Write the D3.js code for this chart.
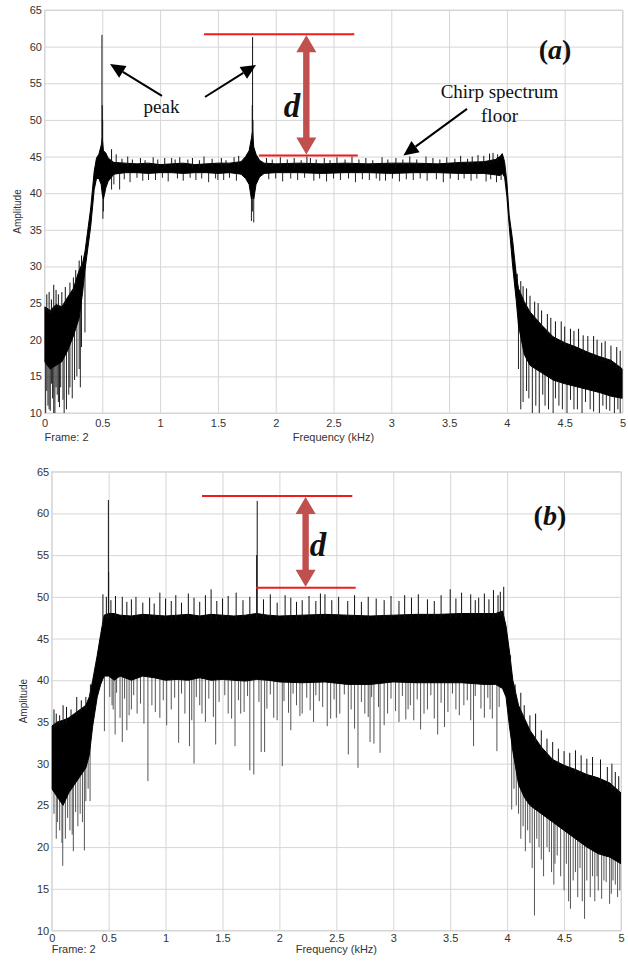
<!DOCTYPE html>
<html>
<head>
<meta charset="utf-8">
<script src="https://cdn.jsdelivr.net/npm/d3@7"></script>
<style>
  body { margin: 0; background: #fff; }
  .axis text { font-family: "Liberation Sans", Arial, sans-serif; font-size: 11px; fill: #333; }
  .lbl { font-family: "Liberation Sans", Arial, sans-serif; fill: #333; }
  .serif { font-family: "Liberation Serif", "Times New Roman", serif; fill: #111; }
</style>
</head>
<body>
<div id="chart"></div>
<script>
// ---- shared axes ----
const xTicks = [0, 0.5, 1, 1.5, 2, 2.5, 3, 3.5, 4, 4.5, 5];
const xTickLabels = ["0", "0.5", "1", "1.5", "2", "2.5", "3", "3.5", "4", "4.5", "5"];
const yTicks = [10, 15, 20, 25, 30, 35, 40, 45, 50, 55, 60, 65];

// ---- panel (a): envelope of the dense trace ----
const freqA = [0, 0.05, 0.1, 0.15, 0.2, 0.25, 0.3, 0.33, 0.35, 0.4, 0.43, 0.45, 0.47, 0.49, 0.5, 0.51, 0.53, 0.55,
  0.6, 0.7, 0.8, 0.9, 1.0, 1.1, 1.2, 1.3, 1.4, 1.5, 1.6, 1.7, 1.74, 1.77, 1.79, 1.8, 1.81, 1.83, 1.86, 1.9,
  2.0, 2.2, 2.4, 2.6, 2.8, 3.0, 3.2, 3.4, 3.6, 3.8, 3.9, 3.94, 3.96, 3.98, 4.0, 4.02, 4.05, 4.08, 4.1, 4.15,
  4.2, 4.3, 4.4, 4.5, 4.6, 4.7, 4.8, 4.9, 5.0];
const topA = [24.5, 24, 24.8, 24.5, 25.8, 27, 29.5, 30.5, 32, 38, 43, 44.8, 45.3, 46.5, 47.5, 45.8, 45.5, 44.8,
  44.2, 44.1, 44.0, 44.1, 43.9, 44.0, 44.1, 43.9, 44.0, 44.1, 44.1, 44.3, 45.0, 45.8, 47.5, 48.5, 46.3, 45.3, 44.5, 44.1,
  44.0, 44.1, 44.0, 44.1, 44.0, 44.1, 44.1, 44.0, 44.2, 44.3, 44.6, 45.0, 45.4, 44.3, 41.5, 37, 33.5, 29, 27, 25.2,
  23.8, 22, 20.4, 19.6, 19, 18.3, 17.7, 17.2, 16];
const botA = [17, 16, 16.5, 17, 18.5, 20.5, 23, 26.5, 29.5, 35.5, 40.5, 42, 42, 41.2, 39.8, 39.2, 40.7, 41.6,
  42.6, 42.8, 42.8, 42.7, 42.8, 42.8, 42.7, 42.8, 42.8, 42.7, 42.8, 42.6, 42, 41.2, 39.2, 39.7, 39.2, 41.2, 42.2, 42.7,
  42.8, 42.8, 42.7, 42.8, 42.8, 42.7, 42.8, 42.8, 42.7, 42.7, 42.5, 42.4, 42.7, 42.2, 39.5, 35.5, 30, 25.5, 22, 18,
  16.5, 15.5, 14.5, 14, 13.6, 13.2, 12.8, 12.3, 12];
// isolated spikes [frequency kHz, amplitude]
const upSpikesA = [[0.497, 61.6], [0.5, 52], [0.503, 50], [1.8, 61.3], [1.797, 52], [1.803, 50],
  [0.02, 26.2], [0.04, 26.5], [0.06, 25.5], [0.08, 27.5], [0.1, 26.8], [0.12, 26.2], [0.15, 26.5], [0.18, 27.2],
  [0.22, 27.8], [0.25, 28.5], [0.27, 29.5], [0.3, 30.8], [0.32, 31.5],
  [0.58, 46], [0.62, 45.3], [0.67, 44.7], [0.72, 45.0], [0.76, 44.6], [0.83, 44.8], [0.87, 44.5], [0.94, 44.9],
  [0.98, 44.6], [1.04, 44.8], [1.1, 44.8], [1.13, 44.6], [1.17, 44.9], [1.24, 44.6], [1.28, 44.8], [1.34, 44.5],
  [1.38, 45.0], [1.45, 44.7], [1.53, 44.8], [1.57, 44.5], [1.64, 44.9], [1.68, 45.1], [1.92, 44.8], [1.97, 44.6],
  [2.04, 44.9], [2.1, 44.6], [2.16, 44.8], [2.22, 44.5], [2.27, 45.0], [2.3, 44.8], [2.35, 44.6], [2.42, 44.8],
  [2.47, 44.5], [2.53, 44.9], [2.6, 44.6], [2.66, 45.0], [2.72, 44.6], [2.78, 44.8], [2.84, 44.5], [2.92, 44.9],
  [2.97, 44.6], [3.04, 44.8], [3.1, 44.6], [3.16, 45.0], [3.22, 44.6], [3.3, 45.0], [3.36, 44.8], [3.42, 44.6],
  [3.48, 44.9], [3.55, 44.7], [3.6, 45.1], [3.66, 44.7], [3.7, 45.0], [3.75, 45.2], [3.8, 45.1], [3.85, 45.4],
  [3.88, 45.5], [3.92, 45.3],
  [4.09, 29], [4.12, 28], [4.14, 27.3], [4.17, 27], [4.2, 26], [4.24, 25.2], [4.27, 25], [4.3, 24], [4.35, 23.5],
  [4.38, 23], [4.42, 22.5], [4.47, 22.5], [4.5, 21.8], [4.55, 21.5], [4.58, 21.2], [4.62, 21.5], [4.66, 20.6],
  [4.7, 20.5], [4.75, 20.5], [4.78, 20], [4.82, 19.6], [4.85, 19.8], [4.9, 19.2], [4.95, 19], [4.98, 18.5]];
const downSpikesA = [[0.505, 36.5], [0.51, 37.5], [0.52, 40], [1.79, 36.2], [1.81, 36], [1.8, 37.5],
  [0.01, 10], [0.02, 13], [0.03, 11], [0.04, 10.5], [0.05, 10.3], [0.06, 14], [0.07, 12], [0.08, 10], [0.09, 10],
  [0.1, 13.5], [0.11, 12.5], [0.12, 11.5], [0.13, 10.8], [0.14, 13.5], [0.16, 11.8], [0.17, 10], [0.19, 10.5],
  [0.21, 12.5], [0.22, 13.5], [0.24, 12], [0.26, 14.5], [0.28, 15], [0.3, 16], [0.31, 13.5], [0.32, 19], [0.35, 21],
  [0.58, 40.5], [0.6, 41.2], [0.65, 40.5], [0.69, 41.9], [0.74, 41.5], [0.8, 42.1], [0.85, 41.7], [0.9, 41.8],
  [0.96, 41.8], [1.02, 42.1], [1.07, 41.6], [1.15, 42.0], [1.2, 41.7], [1.26, 42.1], [1.31, 41.8], [1.36, 42.0],
  [1.42, 41.5], [1.48, 42.0], [1.5, 41.8], [1.55, 41.8], [1.6, 42.1], [1.66, 41.7], [1.94, 41.9], [2.0, 42.0],
  [2.06, 41.6], [2.13, 42.0], [2.19, 41.8], [2.25, 42.1], [2.33, 41.7], [2.38, 42.0], [2.44, 41.6], [2.5, 42.0],
  [2.56, 41.8], [2.63, 42.0], [2.69, 41.5], [2.75, 41.9], [2.81, 41.8], [2.87, 42.0], [2.9, 41.7], [2.95, 41.7],
  [3.01, 42.0], [3.07, 41.6], [3.13, 41.9], [3.19, 41.8], [3.25, 42.0], [3.31, 41.7], [3.39, 41.9], [3.45, 41.5],
  [3.51, 42.0], [3.58, 41.8], [3.63, 42.0], [3.69, 41.7], [3.74, 42.0], [3.82, 41.6], [3.86, 41.9], [3.91, 41.5],
  [3.95, 41.8],
  [4.1, 16], [4.12, 10.5], [4.14, 11.5], [4.17, 13], [4.19, 12], [4.22, 10], [4.25, 11], [4.28, 10], [4.31, 12.5],
  [4.33, 11], [4.36, 10.5], [4.4, 10], [4.42, 12], [4.45, 11], [4.48, 10.5], [4.52, 10], [4.55, 11.8], [4.58, 10.5],
  [4.61, 10.5], [4.65, 10], [4.68, 11.5], [4.72, 10.5], [4.75, 10.2], [4.8, 10], [4.83, 11], [4.86, 10.5],
  [4.89, 10.3], [4.93, 10], [4.96, 10.5], [4.98, 10]];

// ---- panel (b) ----
const freqB = [0, 0.05, 0.1, 0.15, 0.2, 0.25, 0.3, 0.33, 0.36, 0.4, 0.43, 0.46, 0.5, 0.55, 0.6, 0.7, 0.8, 0.9,
  1.0, 1.1, 1.2, 1.3, 1.4, 1.5, 1.6, 1.7, 1.8, 1.9, 2.0, 2.2, 2.4, 2.6, 2.8, 3.0, 3.2, 3.4, 3.6, 3.8, 3.9, 3.96,
  3.99, 4.02, 4.05, 4.1, 4.15, 4.2, 4.3, 4.4, 4.5, 4.6, 4.7, 4.8, 4.9, 5.0];
const topB = [34.5, 35, 35.2, 35.5, 36, 36.5, 37, 38, 40, 43, 45.5, 47.8, 48, 48, 47.8, 47.7, 47.9, 47.8,
  47.7, 47.8, 47.9, 47.7, 47.9, 47.8, 47.7, 47.8, 48, 47.8, 47.7, 47.8, 47.9, 47.8, 47.7, 47.8, 47.9, 47.9, 48, 48, 48, 48.3,
  46.5, 43.5, 40, 37, 35.5, 34, 32, 30.5, 29.8, 29.3, 28.7, 28.3, 27.7, 26.5];
const botB = [27, 26, 25, 26.5, 27.5, 28.5, 29.5, 31, 34.5, 38, 39.5, 40.5, 40.5, 40, 40.5, 40, 40.5, 40.3,
  40, 40.1, 40, 40.3, 40, 40.1, 40, 39.9, 40.1, 40, 39.8, 39.7, 39.8, 39.5, 39.5, 39.8, 39.7, 39.7, 39.7, 39.5, 39.5, 39,
  38, 34.5, 31.5, 27.5, 26, 25, 24, 23, 22, 21, 20, 19.2, 18.8, 18];
const upSpikesB = [[0.498, 61.6], [0.5, 53], [1.805, 61.5], [1.8, 55], [0.45, 50.3], [0.48, 50],
  [0.52, 49.6], [0.56, 50.1], [0.62, 50], [0.66, 49.4], [0.7, 49.7], [0.74, 50.0], [0.8, 49.3], [0.86, 49.9],
  [0.9, 49.2], [0.95, 50.5], [1.0, 49.8], [1.05, 49.5], [1.09, 50.2], [1.14, 49.3], [1.2, 50.4], [1.25, 49.9],
  [1.3, 49.4], [1.35, 50.2], [1.4, 50.9], [1.45, 49.5], [1.5, 49.8], [1.55, 50.1], [1.62, 50.5], [1.68, 49.6],
  [1.74, 50.0], [1.86, 49.7], [1.92, 50.3], [1.98, 49.3], [2.05, 50.2], [2.1, 49.9], [2.15, 49.4], [2.2, 49.6],
  [2.26, 50.1], [2.32, 49.5], [2.36, 50.4], [2.4, 50.3], [2.46, 49.6], [2.52, 50.0], [2.6, 49.5], [2.66, 50.2],
  [2.72, 49.4], [2.78, 50.0], [2.85, 49.8], [2.92, 49.6], [2.98, 50.1], [3.05, 49.5], [3.1, 50.2], [3.16, 49.9],
  [3.22, 50.3], [3.3, 49.7], [3.36, 49.5], [3.42, 50.2], [3.5, 50.9], [3.55, 49.8], [3.6, 50.5], [3.68, 50.3],
  [3.72, 49.6], [3.75, 49.9], [3.8, 50.4], [3.84, 49.7], [3.88, 50.8], [3.92, 50.2], [3.94, 50.6], [3.97, 51.2],
  [0.02, 36.5], [0.04, 36], [0.07, 35.8], [0.1, 37], [0.13, 36.8], [0.17, 36.5], [0.22, 38], [0.26, 37.6],
  [0.3, 38], [0.34, 39.5],
  [4.03, 43], [4.07, 39.5], [4.12, 38.5], [4.15, 37], [4.2, 35.8], [4.25, 36], [4.3, 34], [4.35, 33], [4.4, 32.6],
  [4.45, 31.8], [4.5, 31.5], [4.55, 31.3], [4.6, 31.6], [4.65, 31], [4.7, 30.6], [4.75, 30.8], [4.82, 30.5],
  [4.88, 29.6], [4.92, 30], [4.95, 29], [4.98, 28.5]];
const downSpikesB = [[0.02, 24], [0.04, 21], [0.05, 23], [0.07, 22], [0.09, 20.5], [0.097, 17.75], [0.12, 21],
  [0.14, 23.5], [0.16, 22], [0.18, 21.5], [0.19, 19.5], [0.21, 24.2], [0.23, 22.5], [0.25, 24], [0.27, 23],
  [0.287, 19.6], [0.3, 25.5], [0.32, 27], [0.337, 25.5], [0.463, 33.9],
  [0.51, 38], [0.53, 37], [0.54, 36.5], [0.557, 33.5], [0.57, 38.5], [0.6, 35.5], [0.62, 32.6], [0.64, 37.8],
  [0.66, 34], [0.68, 35.8], [0.7, 36.5], [0.72, 38.2], [0.75, 36], [0.78, 37.2], [0.81, 34.8], [0.845, 27.9],
  [0.88, 37], [0.91, 36.2], [0.95, 35.5], [0.98, 37.6], [1.01, 34.6], [1.05, 36.5], [1.08, 37.9], [1.115, 32.5],
  [1.14, 38.4], [1.17, 36], [1.21, 32.1], [1.23, 35.2], [1.25, 30], [1.27, 38], [1.3, 37], [1.32, 36],
  [1.35, 35], [1.38, 37.8], [1.42, 35.6], [1.44, 32.3], [1.47, 37.4], [1.52, 38.2], [1.55, 36], [1.58, 35.4],
  [1.61, 32.1], [1.64, 37.6], [1.66, 36], [1.69, 36.2], [1.72, 38.1], [1.74, 29.2], [1.775, 28.7], [1.82, 37.4],
  [1.84, 31.4], [1.87, 31.4], [1.89, 36.6], [1.92, 38.3], [1.95, 35.5], [1.98, 35.2], [2.025, 29.7], [2.04, 37.5],
  [2.08, 36.1], [2.1, 34], [2.12, 38.4], [2.15, 37], [2.18, 35.7], [2.2, 36], [2.24, 37.9], [2.27, 36.4],
  [2.3, 35], [2.32, 38.2], [2.35, 37.5], [2.38, 36.8], [2.42, 34.5], [2.45, 35.4], [2.48, 37.7], [2.5, 35.5],
  [2.53, 36], [2.57, 38.3], [2.605, 31.1], [2.63, 36.5], [2.66, 34.2], [2.69, 29.5], [2.72, 37.4], [2.75, 36],
  [2.78, 35.6], [2.796, 32.6], [2.81, 38], [2.83, 32.4], [2.884, 31.3], [2.87, 36.8], [2.92, 34.6], [2.95, 36],
  [2.98, 37.8], [3.02, 36.3], [3.05, 35], [3.08, 38.1], [3.11, 35.3], [3.13, 36.5], [3.15, 37], [3.18, 35.2],
  [3.21, 37.7], [3.24, 34.1], [3.27, 36], [3.3, 36.5], [3.33, 38.2], [3.36, 35.4], [3.39, 33.5], [3.42, 37.3],
  [3.45, 34.4], [3.48, 36.2], [3.52, 38.4], [3.55, 36.5], [3.58, 35.8], [3.62, 37], [3.65, 37.6], [3.68, 35.2],
  [3.705, 32.1], [3.72, 38.1], [3.77, 36.6], [3.8, 35.5], [3.83, 37.9], [3.85, 36.5], [3.87, 35.4], [3.91, 31.5],
  [3.93, 36.8],
  [4.04, 24.5], [4.06, 27], [4.08, 25], [4.1, 24], [4.12, 21], [4.14, 22.5], [4.16, 19.5], [4.18, 22],
  [4.2, 20.5], [4.22, 17.5], [4.24, 11.8], [4.26, 21], [4.28, 20], [4.3, 18.5], [4.32, 16.5], [4.35, 20],
  [4.37, 19.4], [4.39, 17], [4.41, 15.5], [4.42, 18], [4.44, 19], [4.47, 16.5], [4.5, 14.8], [4.52, 18],
  [4.54, 13.5], [4.556, 12.6], [4.58, 16], [4.6, 17], [4.62, 14], [4.64, 17.5], [4.66, 13.5], [4.68, 11.4],
  [4.7, 16], [4.73, 14], [4.75, 16.5], [4.77, 13.5], [4.79, 16.5], [4.8, 14.8], [4.83, 13.8], [4.85, 16],
  [4.87, 15.8], [4.9, 13.2], [4.915, 14.4], [4.93, 16], [4.95, 15.5], [4.97, 14], [4.99, 14.8]];

const svg = d3.select("#chart").append("svg")
  .attr("width", 628)
  .attr("height", 961);

const defs = svg.append("defs");

function drawPanel(p) {
  const x = d3.scaleLinear().domain([0, 5]).range([p.left, p.right]);
  const y = d3.scaleLinear().domain([10, 65]).range([p.bottom, p.top]);
  const w = p.right - p.left, h = p.bottom - p.top;
  const g = svg.append("g");

  // grid + tick labels
  const gx = g.append("g").attr("class", "axis")
    .attr("transform", `translate(0, ${p.bottom})`)
    .call(d3.axisBottom(x).tickValues(xTicks).tickFormat((d, i) => xTickLabels[i])
      .tickSize(-h).tickPadding(p.xPad));
  const gy = g.append("g").attr("class", "axis")
    .attr("transform", `translate(${p.left}, 0)`)
    .call(d3.axisLeft(y).tickValues(yTicks).tickSize(-w).tickPadding(2.5));
  [gx, gy].forEach(a => {
    a.select(".domain").remove();
    a.selectAll("line").attr("stroke", "#d6d6d6");
  });
  g.append("rect")
    .attr("x", p.left).attr("y", p.top).attr("width", w).attr("height", h)
    .attr("fill", "none").attr("stroke", "#d6d6d6");

  g.append("text").attr("class", "lbl")
    .attr("x", p.left).attr("y", p.bottom + p.labelDy)
    .attr("font-size", 11).text("Frame: 2");
  g.append("text").attr("class", "lbl")
    .attr("x", (p.left + p.right) / 2).attr("y", p.bottom + p.labelDy)
    .attr("text-anchor", "middle").attr("font-size", 11).text("Frequency (kHz)");
  g.append("text").attr("class", "lbl")
    .attr("transform", `translate(${p.ampX}, ${(p.top + p.bottom) / 2}) rotate(-90)`)
    .attr("text-anchor", "middle").attr("font-size", 10).text("Amplitude");

  // spectrum trace
  const clipId = "clip" + p.id;
  defs.append("clipPath").attr("id", clipId)
    .append("rect").attr("x", p.left).attr("y", p.top).attr("width", w).attr("height", h);
  const trace = g.append("g").attr("clip-path", `url(#${clipId})`);

  const topAt = d3.scaleLinear().domain(p.freq).range(p.topEnv);
  const botAt = d3.scaleLinear().domain(p.freq).range(p.botEnv);

  trace.selectAll(".down").data(p.down).join("line")
    .attr("x1", d => x(d[0])).attr("x2", d => x(d[0]))
    .attr("y1", d => y(botAt(d[0]) + 0.5)).attr("y2", d => y(d[1]))
    .attr("stroke", p.downColor).attr("stroke-width", 1);

  const band = d3.area()
    .x((d, i) => x(p.freq[i]))
    .y0((d, i) => y(p.botEnv[i]))
    .y1((d, i) => y(p.topEnv[i]));
  trace.append("path").datum(p.freq)
    .attr("d", band)
    .attr("fill", "#000").attr("stroke", "#000").attr("stroke-width", 1)
    .attr("stroke-linejoin", "round");

  trace.selectAll(".up").data(p.up).join("line")
    .attr("x1", d => x(d[0])).attr("x2", d => x(d[0]))
    .attr("y1", d => y(topAt(d[0]) - 0.5)).attr("y2", d => y(d[1]))
    .attr("stroke", "#111").attr("stroke-width", 1);

  // annotations: red level lines and the double arrow "d"
  const ann = p.ann;
  [ann.hi, ann.lo].forEach(l => {
    g.append("line")
      .attr("x1", x(l.f0)).attr("x2", x(l.f1))
      .attr("y1", y(l.v)).attr("y2", y(l.v))
      .attr("stroke", "#ee1c1c").attr("stroke-width", 2);
  });
  const ax = x(ann.arrowF), yTop = y(ann.hi.v) + 1, yBot = y(ann.lo.v) - 1;
  const hw = 10, hh = 17, sw = 3.2;
  g.append("path")
    .attr("d", `M${ax},${yTop} L${ax + hw},${yTop + hh} L${ax + sw},${yTop + hh} L${ax + sw},${yBot - hh}
      L${ax + hw},${yBot - hh} L${ax},${yBot} L${ax - hw},${yBot - hh} L${ax - sw},${yBot - hh}
      L${ax - sw},${yTop + hh} L${ax - hw},${yTop + hh} Z`)
    .attr("fill", "#c0504d");
  g.append("text").attr("class", "serif")
    .attr("x", x(ann.dF)).attr("y", y(ann.dV))
    .attr("text-anchor", "middle").attr("font-size", 33)
    .attr("font-weight", "bold").attr("font-style", "italic").text("d");

  const tag = g.append("text").attr("class", "serif")
    .attr("x", x(p.tagF)).attr("y", y(p.tagV))
    .attr("text-anchor", "middle").attr("font-size", 28).attr("font-weight", "bold");
  tag.append("tspan").text("(");
  tag.append("tspan").attr("font-style", "italic").text(p.tag);
  tag.append("tspan").text(")");

  return { x, y, g };
}

function blackArrow(g, x1, y1, x2, y2) {
  const a = Math.atan2(y2 - y1, x2 - x1), L = 15, W = 7;
  const bx = x2 - L * Math.cos(a), by = y2 - L * Math.sin(a);
  g.append("line").attr("x1", x1).attr("y1", y1).attr("x2", bx).attr("y2", by)
    .attr("stroke", "#000").attr("stroke-width", 2);
  g.append("path")
    .attr("d", `M${x2},${y2} L${bx + W * Math.sin(a)},${by - W * Math.cos(a)} L${bx - W * Math.sin(a)},${by + W * Math.cos(a)} Z`)
    .attr("fill", "#000");
}

const pa = drawPanel({
  id: "a", left: 44.5, right: 622.5, top: 10, bottom: 413, xPad: 6, labelDy: 28, ampX: 21,
  freq: freqA, topEnv: topA, botEnv: botA, up: upSpikesA, down: downSpikesA, downColor: "#222",
  ann: { hi: { f0: 1.38, f1: 2.68, v: 61.68 }, lo: { f0: 1.855, f1: 2.71, v: 45.15 }, arrowF: 2.265, dF: 2.141, dV: 50.4 },
  tag: "a", tagF: 4.416, tagV: 58.3
});
const pb = drawPanel({
  id: "b", left: 51.7, right: 621, top: 471.7, bottom: 930.5, xPad: 3.5, labelDy: 22, ampX: 27,
  freq: freqB, topEnv: topB, botEnv: botB, up: upSpikesB, down: downSpikesB, downColor: "#555",
  ann: { hi: { f0: 1.32, f1: 2.64, v: 62.09 }, lo: { f0: 1.794, f1: 2.67, v: 51.1 }, arrowF: 2.23, dF: 2.339, dV: 54.9 },
  tag: "b", tagF: 4.376, tagV: 58.6
});

// text callouts on panel (a)
const xa = pa.x, ya = pa.y;
pa.g.append("text").attr("class", "serif")
  .attr("x", xa(1.012)).attr("y", ya(50.95))
  .attr("text-anchor", "middle").attr("font-size", 19).text("peak");
blackArrow(pa.g, xa(1.016), ya(53.27), xa(0.567), ya(57.63));
blackArrow(pa.g, xa(1.388), ya(53.13), xa(1.83), ya(57.5));
pa.g.append("text").attr("class", "serif")
  .attr("x", xa(3.936)).attr("y", ya(53.0))
  .attr("text-anchor", "middle").attr("font-size", 19).text("Chirp spectrum");
pa.g.append("text").attr("class", "serif")
  .attr("x", xa(3.936)).attr("y", ya(49.72))
  .attr("text-anchor", "middle").attr("font-size", 19).text("floor");
blackArrow(pa.g, xa(3.655), ya(51.5), xa(3.105), ya(45.15));
</script>
</body>
</html>
